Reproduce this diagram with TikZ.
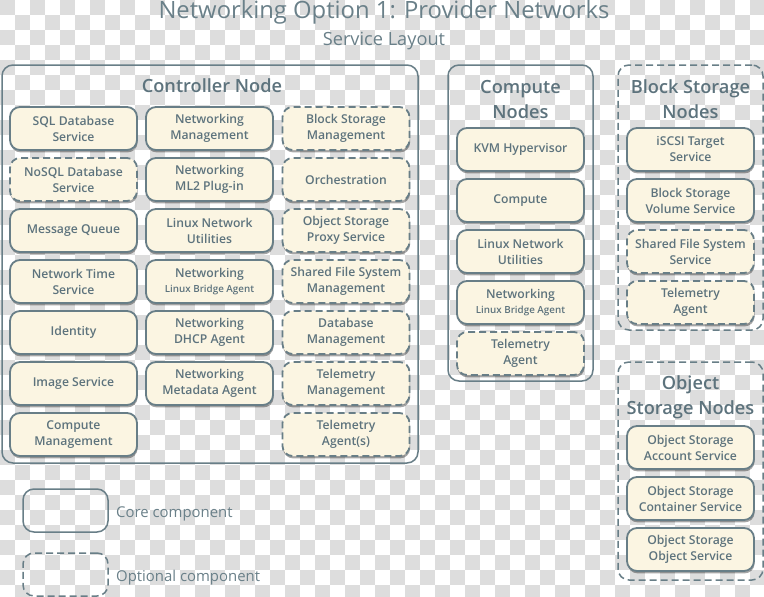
\documentclass[tikz,border=0pt]{standalone}
\usepackage{fontspec}
\setmainfont{Open Sans}
\IfFontExistsTF{Open Sans SemiBold}{\newfontfamily\semib{Open Sans SemiBold}}{%
  \IfFontExistsTF{Open Sans Semibold}{\newfontfamily\semib{Open Sans Semibold}}{%
    \newfontfamily\semib{Open Sans}[FakeBold=1.2]}}
\usetikzlibrary{shadows}
\definecolor{txt}{RGB}{93,115,125}
\definecolor{ttl}{RGB}{106,128,137}
\definecolor{edge}{RGB}{104,126,135}
\definecolor{cream}{RGB}{251,245,226}
\definecolor{chk}{RGB}{221,221,221}
\tikzset{
  svc/.style={draw=edge, line width=1.8pt, fill=cream, rounded corners=10pt,
    minimum width=127pt, minimum height=43pt, inner sep=0pt, align=center,
    text=txt, font=\semib\fontsize{12.2}{16}\selectfont,
    drop shadow={shadow xshift=0.6pt, shadow yshift=-2.4pt, opacity=0.35, fill=black}},
  corebox/.style={svc},
  optbox/.style={svc, dash pattern=on 7pt off 4pt},
  grp/.style={draw=edge, line width=1.5pt, rounded corners=11pt, inner sep=0pt},
  grpopt/.style={grp, dash pattern=on 7pt off 4pt},
  grptitle/.style={text=txt, align=center, inner sep=0pt, font=\semib\fontsize{18.2}{25}\selectfont},
  legtext/.style={text=ttl, anchor=west, inner sep=0pt, font=\fontsize{14.9}{19}\selectfont},
}
\newcommand{\smalltx}[1]{{\fontsize{9.8}{14}\selectfont #1}}
\begin{document}
\begin{tikzpicture}[x=1pt, y=-1pt]
\useasboundingbox (0,0) rectangle (764,597);
\begin{scope}
\clip (0,0) rectangle (764,597);
\fill[white] (0,0) rectangle (764,597);
\foreach \j in {0,...,39} {
  \pgfmathtruncatemacro\off{mod(\j,2)}
  \foreach \i in {0,2,...,50} {
    \fill[chk] ({(\i+\off)*15},{\j*15}) rectangle +(15,15);
  }
}
\end{scope}
% titles
\node[text=ttl, inner sep=0pt, font=\fontsize{23.8}{28}\selectfont] (title) at (384,12.5) {Networking Option 1: Provider Networks};
\node[text=ttl, inner sep=0pt, font=\fontsize{18.2}{22}\selectfont] (subtitle) at (384,41.5) {Service Layout};
% containers
\node[grp, minimum width=416pt, minimum height=398pt] (ctrl) at (210,264) {};
\node[grp, minimum width=145pt, minimum height=316pt] (comp) at (520.5,223) {};
\node[grpopt, minimum width=145pt, minimum height=265pt] (blk) at (690.5,197.5) {};
\node[grpopt, minimum width=145pt, minimum height=218pt] (obj) at (690.5,471) {};
\node[grptitle] (ctrlt) at (212,86) {Controller Node};
\node[grptitle] (compt) at (520.5,99.5) {Compute\\Nodes};
\node[grptitle] (blkt) at (690.5,99.5) {Block Storage\\Nodes};
\node[grptitle] (objt) at (690.5,397.5) {Object\\Storage Nodes};
% controller column 1
\node[corebox] (c11) at (73.5,128.5) {SQL Database\\Service};
\node[optbox]  (c12) at (73.5,179.5) {NoSQL Database\\Service};
\node[corebox] (c13) at (73.5,230.5) {Message Queue};
\node[corebox] (c14) at (73.5,281.5) {Network Time\\Service};
\node[corebox] (c15) at (73.5,332.5) {Identity};
\node[corebox] (c16) at (73.5,383.5) {Image Service};
\node[corebox] (c17) at (73.5,434.5) {Compute\\Management};
% controller column 2
\node[corebox] (c21) at (209.5,128.5) {Networking\\Management};
\node[corebox] (c22) at (209.5,179.5) {Networking\\ML2 Plug-in};
\node[corebox] (c23) at (209.5,230.5) {Linux Network\\Utilities};
\node[corebox] (c24) at (209.5,281.5) {Networking\\[-1pt]\smalltx{Linux Bridge Agent}};
\node[corebox] (c25) at (209.5,332.5) {Networking\\DHCP Agent};
\node[corebox] (c26) at (209.5,383.5) {Networking\\Metadata Agent};
% controller column 3
\node[optbox] (c31) at (346,128.5) {Block Storage\\Management};
\node[optbox] (c32) at (346,179.5) {Orchestration};
\node[optbox] (c33) at (346,230.5) {Object Storage\\Proxy Service};
\node[optbox] (c34) at (346,281.5) {Shared File System\\Management};
\node[optbox] (c35) at (346,332.5) {Database\\Management};
\node[optbox] (c36) at (346,383.5) {Telemetry\\Management};
\node[optbox] (c37) at (346,434.5) {Telemetry\\Agent(s)};
% compute nodes
\node[corebox] (k1) at (520.5,149.5) {KVM Hypervisor};
\node[corebox] (k2) at (520.5,200.5) {Compute};
\node[corebox] (k3) at (520.5,251.5) {Linux Network\\Utilities};
\node[corebox] (k4) at (520.5,302.5) {Networking\\[-1pt]\smalltx{Linux Bridge Agent}};
\node[optbox]  (k5) at (520.5,353.5) {Telemetry\\Agent};
% block storage nodes
\node[corebox] (b1) at (690.5,149.5) {iSCSI Target\\Service};
\node[corebox] (b2) at (690.5,200.5) {Block Storage\\Volume Service};
\node[optbox]  (b3) at (690.5,251.5) {Shared File System\\Service};
\node[optbox]  (b4) at (690.5,302.5) {Telemetry\\Agent};
% object storage nodes
\node[corebox] (o1) at (690.5,447.5) {Object Storage\\Account Service};
\node[corebox] (o2) at (690.5,498.5) {Object Storage\\Container Service};
\node[corebox] (o3) at (690.5,549.5) {Object Storage\\Object Service};
% legend
\node[grp, minimum width=85pt, minimum height=43pt] (lcore) at (65.5,510.5) {};
\node[grpopt, minimum width=85pt, minimum height=43pt] (lopt) at (65.5,574.5) {};
\node[legtext] (lcoret) at (116,513.5) {Core component};
\node[legtext] (loptt) at (116,578) {Optional component};
\end{tikzpicture}
\end{document}
